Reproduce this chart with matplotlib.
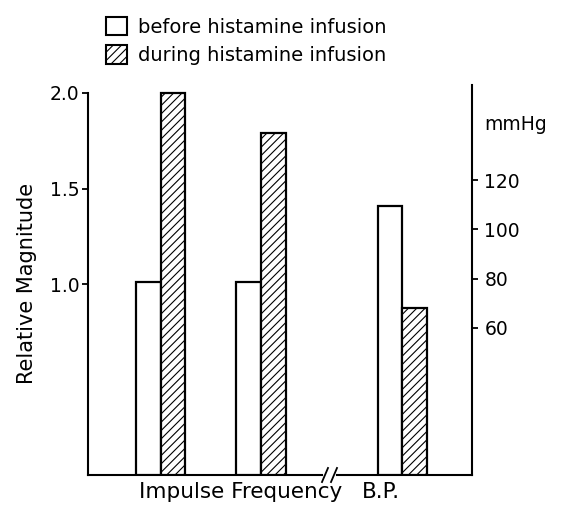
import matplotlib
matplotlib.use("Agg")
import matplotlib.pyplot as plt
from matplotlib.patches import Patch
from matplotlib.lines import Line2D

# ---- data ----
series_labels = ["before histamine infusion", "during histamine infusion"]
rel_before = [1.01, 1.01]      # Relative magnitude (left axis), groups 1 & 2
rel_during = [2.0, 1.79]
bp_before = [109.7]            # B.P. in mmHg (right axis)
bp_during = [68.1]
left_ticks = [1.0, 1.5, 2.0]
left_ticklabels = ["1.0", "1.5", "2.0"]
right_ticks = [60, 80, 100, 120]

plt.rcParams["font.family"] = ["DejaVu Sans"]
plt.rcParams["hatch.linewidth"] = 0.8

W, H = 561, 517
fig = plt.figure(figsize=(W / 100, H / 100), dpi=100)

# axes box in pixels
x0, x1 = 88, 472
ytop, ybot = 85, 475
ax = fig.add_axes([x0 / W, (H - ybot) / H, (x1 - x0) / W, (ybot - ytop) / H])
ax2 = ax.twinx()

group_x = [0.0, 1.005]
bp_x = [2.415]
bw = 0.245
ax.set_xlim((x0 - 160.5) / 100, (x1 - 160.5) / 100)
ax.set_ylim(0, 2.0 + (93 - 85) / 191)
ax2.set_ylim(0, (ybot - ytop) / 2.4558)

lw = 1.6
for xi, b, d in zip(group_x, rel_before, rel_during):
    ax.bar(xi - bw / 2, b, width=bw, facecolor="white", edgecolor="black", linewidth=lw, zorder=3)
    ax.bar(xi + bw / 2, d, width=bw, facecolor="white", edgecolor="black", linewidth=lw,
           hatch="////", zorder=3)
for xi, b, d in zip(bp_x, bp_before, bp_during):
    ax2.bar(xi - bw / 2, b, width=bw, facecolor="white", edgecolor="black", linewidth=lw, zorder=3)
    ax2.bar(xi + bw / 2, d, width=bw, facecolor="white", edgecolor="black", linewidth=lw,
            hatch="////", zorder=3)

# spines
for a in (ax, ax2):
    a.spines["top"].set_visible(False)
    a.spines["bottom"].set_visible(False)
ax.spines["right"].set_visible(False)
ax2.spines["left"].set_visible(False)
ax.spines["left"].set_linewidth(1.5)
ax.spines["left"].set_bounds(0, 2.0)
ax2.spines["right"].set_linewidth(1.5)

ax.set_xticks([])
ax.set_yticks(left_ticks)
ax.set_yticklabels(left_ticklabels)
ax.tick_params(axis="y", direction="out", length=4, width=1.3, labelsize=13.5, pad=2)
ax2.set_yticks(right_ticks)
ax2.tick_params(axis="y", direction="out", length=4, width=1.3, labelsize=13.5, pad=5)

# bottom axis line with break
brk = 1.665
xl = ax.get_xlim()
tr = ax.get_xaxis_transform()
ax.add_line(Line2D([xl[0], brk - 0.05], [0, 0], transform=tr, color="black", lw=1.5, clip_on=False))
ax.add_line(Line2D([brk + 0.1, xl[1]], [0, 0], transform=tr, color="black", lw=1.5, clip_on=False))
for dx in (-0.02, 0.07):
    ax.add_line(Line2D([brk + dx - 0.03, brk + dx + 0.03], [-0.018, 0.018], transform=tr,
                       color="black", lw=1.3, clip_on=False))

fig.text(27 / W, 1 - 283 / H, "Relative Magnitude", fontsize=15, rotation=90,
         ha="center", va="center")
fig.text(484 / W, 1 - 125 / H, "mmHg", fontsize=13.5, ha="left", va="center")
fig.text(241 / W, 1 - 492 / H, "Impulse Frequency", fontsize=15.5, ha="center", va="center")
fig.text(381 / W, 1 - 492 / H, "B.P.", fontsize=15.5, ha="center", va="center")

handles = [Patch(facecolor="white", edgecolor="black", linewidth=1.5),
           Patch(facecolor="white", edgecolor="black", linewidth=1.5, hatch="////")]
fig.legend(handles, series_labels, loc="upper left", bbox_to_anchor=(92 / W, 1 - 3 / H),
           frameon=False, fontsize=14, handlelength=1.1, handleheight=1.1,
           handletextpad=0.55, labelspacing=0.45, borderpad=0.2)

fig.savefig("out.png", dpi=100)
